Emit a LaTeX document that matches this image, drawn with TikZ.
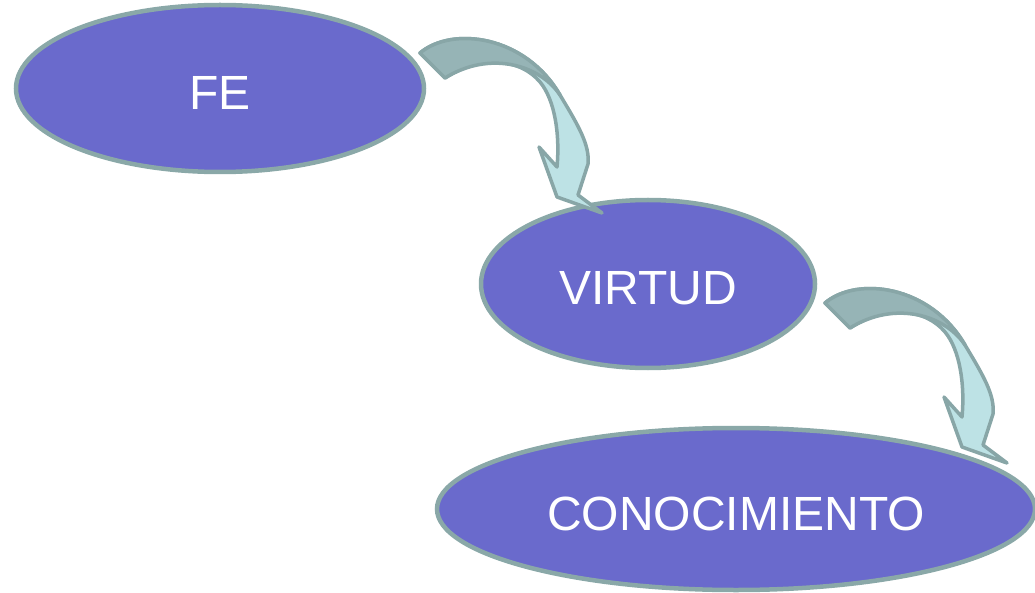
\documentclass[tikz,border=0pt]{standalone}
\usepackage{fontspec}
\setmainfont{Liberation Sans}
\usetikzlibrary{shapes.geometric}
\definecolor{ellfill}{HTML}{6A6ACC}
\definecolor{ellline}{HTML}{8AA8A8}
\definecolor{arrdark}{HTML}{96B4B6}
\definecolor{arrlight}{HTML}{BDE2E5}
\definecolor{arrline}{HTML}{88A6A7}
\tikzset{
  blob/.style={ellipse, fill=ellfill, draw=ellline, line width=4.5pt, inner sep=0pt,
    text=white, font=\fontsize{48}{56}\selectfont, text height=42pt, text depth=0pt},
  curvarrow/.pic={
    \draw[arrline, line width=3.5pt, line join=round, fill=arrlight]
      (420,53) .. controls (452,26) and (525,35) .. (560,95)
      .. controls (578,125) and (590,145) .. (588,164)
      -- (578,195) -- (602,213) -- (557,197) -- (539,147) -- (557,167)
      .. controls (560,135) and (555,100) .. (540,82)
      .. controls (520,58) and (480,55) .. (445,78) -- cycle;
    \draw[arrline, line width=3.5pt, line join=round, fill=arrdark]
      (420,53) .. controls (452,26) and (525,35) .. (560,95)
      .. controls (540,65) and (490,50) .. (445,78) -- cycle;
  }
}
\begin{document}
\begin{tikzpicture}[x=1pt,y=-1pt]
\useasboundingbox (0,0) rectangle (1035,593);
\node[blob, minimum width=408pt, minimum height=167pt] (fe) at (220,88.5) {FE};
\node[blob, minimum width=334pt, minimum height=168pt] (virtud) at (648,284) {VIRTUD};
\node[blob, minimum width=598pt, minimum height=162pt] (conoc) at (736,509) {CONOCIMIENTO};
\pic at (0,0) {curvarrow};
\pic at (405,250) {curvarrow};
\end{tikzpicture}
\end{document}
